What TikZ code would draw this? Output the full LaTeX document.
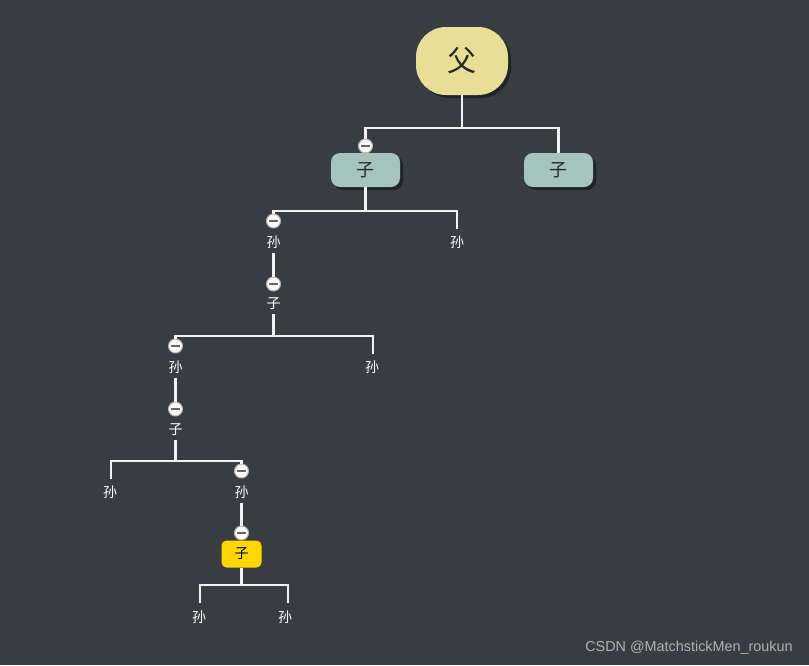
\documentclass[tikz,border=0pt]{standalone}
\usepackage{fontspec}
\usetikzlibrary{shadows}
\newfontfamily\cjk{Noto Sans CJK SC}
\newfontfamily\wmfont{Liberation Sans}
\definecolor{bgcol}{HTML}{373D41}
\definecolor{fucol}{HTML}{E8DF96}
\definecolor{zicol}{HTML}{A5C4BE}
\definecolor{hicol}{HTML}{FFD600}
\definecolor{linkcol}{HTML}{F2F2F2}

\begin{document}
\begin{tikzpicture}[x=1pt,y=-1pt,
    link/.style={draw=linkcol,line width=2.6pt},
    root node/.style={rectangle,rounded corners=30pt,fill=fucol,minimum width=92pt,minimum height=68pt,font=\cjk\fontsize{29}{29}\selectfont,text=black!85,drop shadow={shadow xshift=3pt,shadow yshift=-3pt,fill=black,opacity=0.4}},
    main node/.style={rectangle,rounded corners=9pt,fill=zicol,minimum width=69pt,minimum height=34pt,font=\cjk\fontsize{18}{18}\selectfont,text=black!85,drop shadow={shadow xshift=3pt,shadow yshift=-3pt,fill=black,opacity=0.4}},
    hi node/.style={rectangle,rounded corners=5pt,fill=hicol,minimum width=40pt,minimum height=27pt,font=\cjk\fontsize{14}{14}\selectfont,text=black},
    leaf/.style={inner sep=4pt,font=\cjk\fontsize{14}{14}\selectfont,text=white},
    fold/.style={circle,draw=gray!60,line width=1pt,fill=white!95!gray,minimum size=14pt,inner sep=0pt,
        path picture={\draw[line width=1.5pt,gray!80!black] ([xshift=-4.5pt]path picture bounding box.center) -- ([xshift=4.5pt]path picture bounding box.center);}}]

    \fill[bgcol] (0,0) rectangle (809,665);

    \node[root node] (fu) at (462,61) {父};
    \node[main node] (zi1) at (365.5,170) {子};
    \node[main node] (zi2) at (558.5,170) {子};
    \node[leaf] (sun1) at (273.5,242) {孙};
    \node[leaf] (sun2) at (457,242) {孙};
    \node[leaf] (zi3) at (273.5,304) {子};
    \node[leaf] (sun3) at (175.5,367) {孙};
    \node[leaf] (sun4) at (372,367) {孙};
    \node[leaf] (zi4) at (175.5,430) {子};
    \node[leaf] (sun5) at (110,492) {孙};
    \node[leaf] (sun6) at (241.5,492) {孙};
    \node[hi node] (zi5) at (241.5,554) {子};
    \node[leaf] (sun7) at (199,617) {孙};
    \node[leaf] (sun8) at (285,617) {孙};

    \node[fold] (f1) at (365.5,146) {};
    \node[fold] (f2) at (273.5,221) {};
    \node[fold] (f3) at (273.5,284) {};
    \node[fold] (f4) at (175.5,346) {};
    \node[fold] (f5) at (175.5,409) {};
    \node[fold] (f6) at (241.5,471) {};
    \node[fold] (f7) at (241.5,533) {};

    \coordinate (j1) at (462,128);
    \coordinate (j2) at (365.5,211);
    \coordinate (j3) at (273.5,336);
    \coordinate (j4) at (175.5,461);
    \coordinate (j5) at (241.5,585);

    \draw[link] (fu) -- (j1) -| (f1);
    \draw[link] (j1) -| (zi2);
    \draw[link] (zi1) -- (j2) -| (f2);
    \draw[link] (j2) -| (457,229);
    \draw[link] (sun1) -- (f3);
    \draw[link] (zi3) -- (j3) -| (f4);
    \draw[link] (j3) -| (373,354);
    \draw[link] (sun3) -- (f5);
    \draw[link] (zi4) -- (j4) -| (111,479);
    \draw[link] (j4) -| (f6);
    \draw[link] (sun6) -- (f7);
    \draw[link] (zi5) -- (j5) -| (200,603);
    \draw[link] (j5) -| (288,603);

    % watermark
    \node[font=\wmfont\fontsize{14.4}{14.4}\selectfont,text=black!30] (wm) at (689,648) {CSDN @MatchstickMen\_roukun};
\end{tikzpicture}
\end{document}
